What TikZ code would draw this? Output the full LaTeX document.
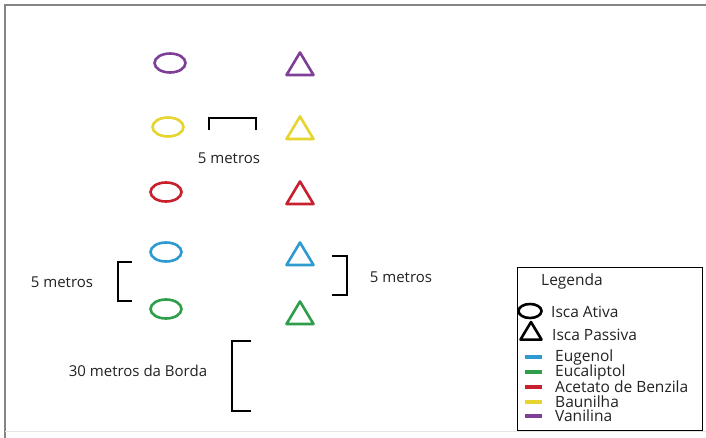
\documentclass[tikz,border=0pt]{standalone}
\usepackage{fontspec}
\setmainfont{Open Sans}
\usetikzlibrary{shapes.geometric}
\definecolor{cpurple}{HTML}{7E3F98}
\definecolor{cyellow}{HTML}{E6D430}
\definecolor{cred}{HTML}{C8202F}
\definecolor{cblue}{HTML}{2E9AD0}
\definecolor{cgreen}{HTML}{2E9E4A}
\definecolor{cframe}{HTML}{858585}
\definecolor{ctext}{HTML}{222222}
\tikzset{
  isca/.style={ellipse, draw, line width=2.6pt, minimum width=31pt, minimum height=19pt, inner sep=0pt},
  tri/.pic={\draw[line width=2.6pt, line join=round] (-13.5,11) -- (0,-11.5) -- (13.5,11) -- cycle;},
  bracket/.style={line width=2.8pt},
  lbl/.style={font=\fontsize{15}{16}\selectfont, text=ctext, inner sep=0pt},
  leg/.style={font=\fontsize{15.5}{16}\selectfont, text=ctext, inner sep=0pt, anchor=west},
  swatch/.style={line width=4pt}
}
\begin{document}
\begin{tikzpicture}[x=1pt,y=-1pt]
\useasboundingbox (0,0) rectangle (706,438);
\fill[white] (0,0) rectangle (706,438);
% frame
\draw[cframe, line width=2pt] (5,438) -- (5,5) -- (706,5);
\draw[gray!20, line width=1pt] (5,431) -- (706,431);

% active baits (ellipses)
\node[isca, draw=cpurple] (e1) at (170,63) {};
\node[isca, draw=cyellow] (e2) at (168,127) {};
\node[isca, draw=cred]    (e3) at (166,192) {};
\node[isca, draw=cblue]   (e4) at (166,252) {};
\node[isca, draw=cgreen]  (e5) at (166,309) {};

% passive baits (triangles)
\pic[cpurple] (t1) at (300,64) {tri};
\pic[cyellow] (t2) at (300,128) {tri};
\pic[cred]    (t3) at (300,193) {tri};
\pic[cblue]   (t4) at (300,254) {tri};
\pic[cgreen]  (t5) at (300,313) {tri};

% brackets
\coordinate (b1a) at (209,130); \coordinate (b1b) at (256,130);
\draw[bracket] (b1a) -- ++(0,-12) -| (b1b);
\node[lbl] (l1) at (229,158) {5 metros};

\coordinate (b2a) at (132,262); \coordinate (b2b) at (132,301);
\draw[bracket] (b2a) -- ++(-14,0) |- (b2b);
\node[lbl] (l2) at (62,282) {5 metros};

\coordinate (b3a) at (332,256); \coordinate (b3b) at (332,295);
\draw[bracket] (b3a) -- ++(15,0) |- (b3b);
\node[lbl] (l3) at (401,277) {5 metros};

\coordinate (b4a) at (251,341); \coordinate (b4b) at (251,411);
\draw[bracket] (b4a) -- ++(-19,0) |- (b4b);
\node[lbl] (l4) at (138,371) {30 metros da Borda};

% legend
\node[draw=black, line width=1.4pt, minimum width=185pt, minimum height=163pt, anchor=north west, inner sep=0pt] (box) at (517,267) {};
\node[leg] (lg) at (541,281) {Legenda};
\node[ellipse, draw=black, line width=2.6pt, minimum width=23pt, minimum height=14pt, inner sep=0pt] (le) at (530,311) {};
\node[leg] (lt1) at (551,312) {Isca Ativa};
\pic[black, scale=0.78] (ltr) at (531,331) {tri};
\node[leg] (lt2) at (552,335) {Isca Passiva};
\foreach \c/\t/\y [count=\i] in {cblue/Eugenol/357, cgreen/Eucaliptol/372, cred/Acetato de Benzila/387, cyellow/Baunilha/402, cpurple/Vanilina/416}{
  \coordinate (s\i a) at (525,\y); \coordinate (s\i b) at (542,\y);
  \draw[swatch, \c] (s\i a) -- (s\i b);
  \node[leg] (it\i) at (555,\y) {\t};
}
\end{tikzpicture}
\end{document}
